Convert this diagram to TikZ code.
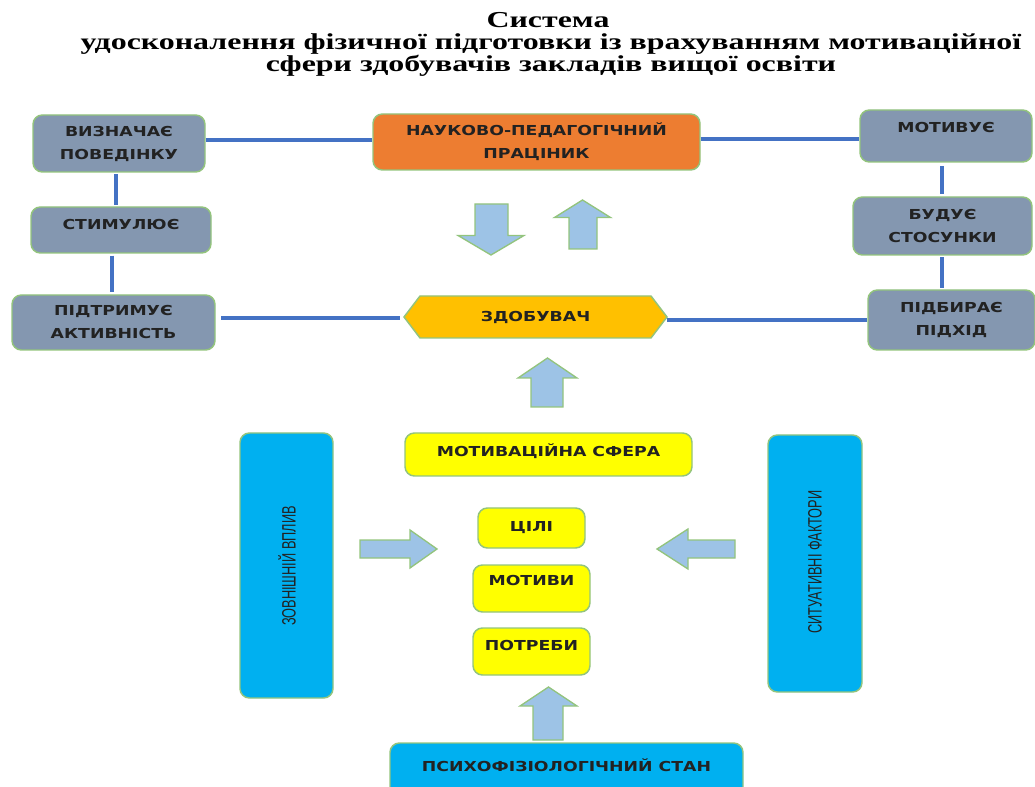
\documentclass[tikz,border=0pt]{standalone}
\usepackage{fontspec}
\setmainfont{Liberation Serif}
\newfontfamily\boxf{DejaVu Sans}[FakeStretch=1.26]
\newfontfamily\rotf{Liberation Sans}[FakeStretch=0.66]
\newfontfamily\titf{Liberation Serif}[FakeStretch=1.4]
\definecolor{slate}{HTML}{8497B0}
\definecolor{orng}{HTML}{ED7D31}
\definecolor{gold}{HTML}{FFC000}
\definecolor{yell}{HTML}{FFFF00}
\definecolor{cyanb}{HTML}{00B0F0}
\definecolor{abl}{HTML}{9DC3E6}
\definecolor{bgreen}{HTML}{93C47D}
\definecolor{cblue}{HTML}{4472C4}
\definecolor{txt}{HTML}{222222}
\begin{document}
\begin{tikzpicture}[x=0.75pt,y=-0.75pt,
  box/.style={draw=bgreen, line width=1.1pt, rounded corners=7pt, align=center,
    font=\boxf\bfseries\fontsize{10.3}{17.25}\selectfont, text=txt, inner sep=0pt},
  gbox/.style={box, fill=slate},
  ybox/.style={box, fill=yell},
  cbox/.style={box, fill=cyanb},
  btext/.style={font=\boxf\bfseries\fontsize{10.3}{17.25}\selectfont, text=txt, inner sep=0pt, align=center},
  rtext/.style={font=\rotf\fontsize{14.5}{17}\selectfont, text=txt, inner sep=0pt, rotate=90},
  ttext/.style={font=\titf\bfseries\fontsize{17.1}{17.25}\selectfont, inner sep=0pt, anchor=base},
  conn/.style={draw=cblue, line width=3.6pt},
  barrow/.style={fill=abl, draw=bgreen, line width=1pt, line join=miter}]
\useasboundingbox (0,0) rectangle (1035,787);

% title
\node[ttext] (title1) at (548,28) {Система};
\node[ttext] (title2) at (551,50) {удосконалення фізичної підготовки із врахуванням мотиваційної};
\node[ttext] (title3) at (551,72) {сфери здобувачів закладів вищої освіти};

% top row
\node[gbox, minimum width=129pt, minimum height=42.75pt] (viz) at (119,143.5) {ВИЗНАЧАЄ\\ПОВЕДІНКУ};
\node[box, fill=orng, minimum width=245.25pt, minimum height=42pt] (nau) at (536.5,142) {НАУКОВО-ПЕДАГОГІЧНИЙ\\ПРАЦІНИК};
\node[gbox, minimum width=129pt, minimum height=39pt] (mot) at (946,136) {};
\node[btext] (motT) at (946,128) {МОТИВУЄ};

\node[gbox, minimum width=135pt, minimum height=34.5pt] (stym) at (121,230) {};
\node[btext] (stymT) at (121,225) {СТИМУЛЮЄ};
\node[gbox, minimum width=134.25pt, minimum height=43.5pt] (bud) at (942.5,226) {БУДУЄ\\СТОСУНКИ};

\node[gbox, minimum width=152.25pt, minimum height=41.25pt] (pidt) at (113.5,322.5) {ПІДТРИМУЄ\\АКТИВНІСТЬ};
\node[gbox, minimum width=125.25pt, minimum height=45pt] (pidb) at (951.5,320) {ПІДБИРАЄ\\ПІДХІД};

% hexagon
\path[fill=gold, draw=bgreen, line width=1.1pt] (404,317) -- (420,296) -- (651,296) -- (667,317) -- (651,338) -- (420,338) -- cycle;
\node[btext, minimum width=197.25pt, minimum height=31.5pt] (zdob) at (535.5,317.5) {ЗДОБУВАЧ};

% connectors
\draw[conn] (viz.east |- 0,140) -- (nau.west |- 0,140);
\draw[conn] (nau.east |- 0,139) -- (mot.west |- 0,139);
\draw[conn, shorten <=1pt, shorten >=1pt] (viz.south -| 116,0) -- (stym.north -| 116,0);
\draw[conn, shorten <=1.5pt, shorten >=2pt] (stym.south -| 112,0) -- (pidt.north -| 112,0);
\draw[conn, shorten <=2.5pt, shorten >=1.5pt] (mot.south -| 942,0) -- (bud.north -| 942,0);
\draw[conn, shorten <=1pt, shorten >=1pt] (bud.south -| 942,0) -- (pidb.north -| 942,0);
\draw[conn, shorten <=4pt, shorten >=3pt] (pidt.east |- 0,318) -- (404,318);
\draw[conn] (667,320) -- (pidb.west |- 0,320);

% arrows between nau and zdob
\path[barrow] (475,204) -- (508,204) -- (508,235.5) -- (524,235.5) -- (491,255) -- (458,235.5) -- (475,235.5) -- cycle;
\path[barrow] (569,249) -- (597,249) -- (597,217.5) -- (610.5,217.5) -- (582.5,200) -- (554.5,217.5) -- (569,217.5) -- cycle;
% arrow up to zdob
\path[barrow] (531,407) -- (563,407) -- (563,378) -- (577,378) -- (547.5,358) -- (518,378) -- (531,378) -- cycle;

% motivation sphere
\node[ybox, minimum width=215.25pt, minimum height=32.25pt] (motsf) at (548.5,454.5) {};
\node[btext] (motsfT) at (548.5,451) {МОТИВАЦІЙНА СФЕРА};

\node[cbox, minimum width=69.75pt, minimum height=198.75pt] (zovn) at (286.5,565.5) {};
\node[rtext] (zovnT) at (287,566) {ЗОВНІШНІЙ ВПЛИВ};
\node[cbox, minimum width=70.5pt, minimum height=192.75pt] (syt) at (815,563.5) {};
\node[rtext] (sytT) at (815,562) {СИТУАТИВНІ ФАКТОРИ};

\node[ybox, minimum width=80.25pt, minimum height=30pt] (cili) at (531.5,528) {ЦІЛІ};
\node[ybox, minimum width=87.75pt, minimum height=35.25pt] (motyvy) at (531.5,588.5) {};
\node[btext] (motyvyT) at (531.5,580) {МОТИВИ};
\node[ybox, minimum width=87.75pt, minimum height=35.25pt] (potreby) at (531.5,651.5) {};
\node[btext] (potrebyT) at (531.5,645) {ПОТРЕБИ};

% side arrows
\path[barrow] (360,540) -- (410,540) -- (410,530) -- (437,549) -- (410,568) -- (410,558) -- (360,558) -- cycle;
\path[barrow] (735,540) -- (688,540) -- (688,529) -- (657,549) -- (688,569) -- (688,558) -- (735,558) -- cycle;
% bottom arrow
\path[barrow] (533,740) -- (563,740) -- (563,706) -- (577,706) -- (548.5,687) -- (520,706) -- (533,706) -- cycle;

\node[cbox, minimum width=264.75pt, minimum height=42pt] (psy) at (566.5,771) {};
\node[btext] (psyT) at (566.5,765) {ПСИХОФІЗІОЛОГІЧНИЙ СТАН};
\end{tikzpicture}
\end{document}
